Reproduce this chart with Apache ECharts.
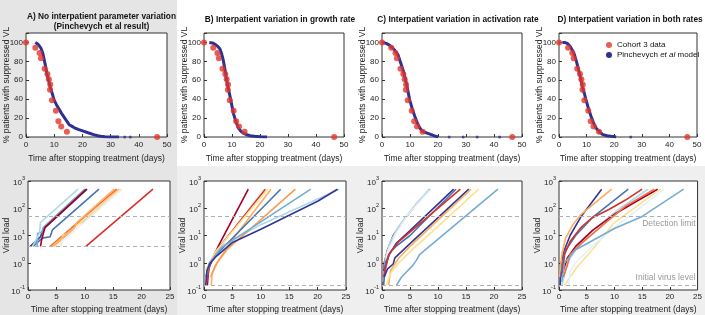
<!DOCTYPE html>
<html>
<head>
<meta charset="utf-8">
<script src="https://cdn.jsdelivr.net/npm/echarts@6/dist/echarts.min.js"></script>
<style>
  html, body { margin: 0; padding: 0; background: #fff; }
  #main { width: 705px; height: 315px; }
</style>
</head>
<body>
<div id="main"></div>
<script>
// panel titles
var titles = [
  'A) No interpatient parameter variation\n(Pinchevych et al result)',
  'B) Interpatient variation in growth rate',
  'C) Interpatient variation in activation rate',
  'D) Interpatient variation in both rates'
];

// cohort 3 data: [days, % suppressed]
var cohortData = [[0,100],[3.3,94.4],[4.8,88.9],[5.3,83.3],[6.6,72.2],[7.6,66.7],[8.1,61.1],[8.6,55.6],[8.5,50],
  [9.2,38.9],[10.6,27.8],[11.5,16.7],[12.5,11.1],[14.5,5.6],[46.5,0]];

// model curves
var modelA = [[3.3,100],[4.3,98],[5.3,94],[6,88],[6.5,81],[7,74],[7.4,67],[8,60],[8.6,53],[9.3,46],[10,39],[11,33],
  [11.8,29],[12.6,25],[13.5,21],[14.4,17],[15.3,13],[16.2,11.5],[17,10],[18.5,8],[20.6,6],[22,4.5],[24,2.5],
  [25.5,1.3],[26.5,0.7],[28,0.3],[30,0.1],[33,0]];
var modelB = [[1.9,100],[3,99.5],[4,98],[5,95.5],[5.7,93],[6.3,88],[6.9,81],[7.5,71],[8.1,60],[8.7,51],[9.3,43],
  [9.9,34],[10.5,25],[11.4,16],[12.3,9.5],[13.2,6],[14.1,4],[15.3,2.3],[16.5,1.4],[18,0.7],[20,0.2],[22.5,0]];
var modelC = [[0.4,100],[1.5,99],[2.5,97.5],[3.3,95.5],[4.5,92],[5.7,87],[6.6,79],[7.5,71],[8.1,64],[8.7,57],
  [9.3,48],[9.9,39],[10.8,30],[11.7,22],[12.6,15],[13.5,9.5],[14.3,6.5],[15.2,5],[16.4,3.8],[17.6,2.5],[18.8,1.2],[20,0]];
var modelD = [[1.2,100],[2,100],[3,99],[4,96],[5,91],[5.5,88],[6.4,79],[7.3,69],[7.9,61],[8.5,53],[9.2,46],
  [9.8,39],[10.7,30],[11.6,22],[12.5,15],[13.4,9.5],[14.6,5.5],[15.9,2.5],[17.4,1.3],[18.9,0.7],[20.7,0]];
var modelTails = [[[35,0],[37,0]], [], [[24,0],[29,0],[34,0],[42,0]], [[26,0]]];

// viral load trajectories: [days, viral load]
var vlColorsA = ['#313695','#4575b4','#74add1','#abd9e9','#a50026','#fdae61','#f46d43','#fee090','#e0f3f8','#fdae61','#d73027'];
var vlA = [
  [[0.4,4],[2.2,9],[2.7,17],[10.4,500]],
  [[0.9,4],[2.5,8],[3.9,9],[4.3,16],[12.5,500]],
  [[1.6,4],[1.7,12],[2.4,13],[2.7,20],[10.0,500]],
  [[0.8,4],[2.0,12],[2.2,30],[8.8,500]],
  [[2.2,4],[2.4,7],[3.0,20],[10.3,500]],
  [[4.5,4],[7.9,16],[8.6,27],[9.6,30],[16.0,500]],
  [[3.9,4],[15.6,500]],
  [[5.8,4],[6.1,10],[7.0,12],[16.3,500]],
  [[5.0,4],[16.6,500]],
  [[4.2,4],[8.2,20],[8.6,30],[15.2,500]],
  [[10.2,4],[22.0,500]]
];
var vlColorsB = ['#a50026','#e0f3f8','#abd9e9','#d73027','#fdae61','#fee090','#4575b4','#f99a4f','#74add1','#313695'];
var vlB = [
  [[0.6,0.15],[0.8,0.6],[1.5,1.3],[2.5,4],[7.8,500]],
  [[0.3,0.2],[1,1],[2,2.2],[10.4,500]],
  [[0.4,0.3],[1.2,1.2],[3,4],[10,25],[23.8,500]],
  [[0.5,0.2],[1,0.8],[2,2.5],[5,15],[10.8,500]],
  [[1.3,0.15],[1.4,0.4],[2.5,1.2],[5,7],[11.8,500]],
  [[0.2,0.5],[1,1],[2,2.5],[11.2,500]],
  [[0.4,0.3],[1,1],[3,3],[13.5,500]],
  [[1.2,0.3],[2,0.8],[4,3],[16.1,500]],
  [[0.3,0.3],[1,1],[3,3.5],[18.8,500]],
  [[0.3,0.15],[0.5,0.5],[1,0.9],[2,1.6],[5,5.5],[10,17],[15,55],[20,180],[23.5,500]]
];
var vlColorsC = ['#a50026','#abd9e9','#e0f3f8','#313695','#4575b4','#d73027','#313695','#fdae61','#fee090','#74add1'];
var vlC = [
  [[0.2,0.15],[0.4,1],[1,3],[2,10],[4,40],[6,130],[8.6,500]],
  [[0.2,0.2],[0.6,1.5],[1.5,6],[3,22],[5.5,100],[8.4,500]],
  [[0.3,0.3],[1,2.5],[2.5,12],[4.5,55],[8.7,500]],
  [[0.3,0.5],[1.3,2],[2.5,5],[5,15],[12.8,500]],
  [[0.3,0.15],[0.6,1],[1.5,2.5],[2.5,4],[5,10],[13.2,500]],
  [[0.3,0.3],[1.2,2],[3,6],[14,500]],
  [[0.4,0.3],[1,0.6],[2,0.9],[2.3,1.5],[5,5],[15.5,500]],
  [[1.2,0.15],[1.5,0.5],[3,1.5],[5,4],[15.9,500]],
  [[0.8,0.15],[1.5,0.4],[3,1],[5,2.5],[17.3,500]],
  [[2.6,0.15],[3.5,0.3],[5.5,0.8],[6.1,1.2],[6.7,2],[20.7,500]]
];
var vlColorsD = ['#313695','#fdae61','#4575b4','#d73027','#abd9e9','#a50026','#f46d43','#fee090','#e0f3f8','#74add1'];
var vlD = [
  [[0.2,0.15],[0.4,1],[1,3],[2,10],[4,50],[7.7,500]],
  [[0.1,0.3],[0.5,2],[1.2,8],[2.5,25],[4,60],[9.5,500]],
  [[0.3,0.3],[1,2.5],[3,10],[6,45],[12.5,500]],
  [[0.5,0.3],[0.7,0.6],[1,2],[2,6],[4,20],[6,45],[9,90],[12,200],[15,500]],
  [[0.5,0.15],[1.5,1],[3,3],[6,15],[11,100],[16.1,500]],
  [[0.6,0.4],[1.5,1.5],[3,4],[6,15],[10,60],[14,180],[17.8,500]],
  [[0.8,0.3],[1.5,0.8],[2,2],[4,5],[8,25],[12,120],[17.2,500]],
  [[1,0.15],[3,0.6],[6,3],[10,30],[18.3,500]],
  [[1.8,0.15],[2,0.5],[3,1],[6,4],[10,20],[19,500]],
  [[0.5,0.2],[1,1],[3,3],[5,5],[10,18],[15,50],[22.5,500]]
];

var detectionLimit = 50;
var initialLevels = [4, 0.15, 0.15, 0.15];

var models = [modelA, modelB, modelC, modelD];
var vlLines = [vlA, vlB, vlC, vlD];
var vlColors = [vlColorsA, vlColorsB, vlColorsC, vlColorsD];

var FONT = 'Liberation Sans, Arial, sans-serif';
var myChart = echarts.init(document.getElementById('main'));

var topLeft = [26, 204, 382, 559];
var topWidth = [141, 140, 140, 138];
var botLeft = [28, 204, 382, 559];
var botWidth = [142, 142, 140, 139];
var centers = [96.5, 275, 453, 625];

var grids = [], xAxes = [], yAxes = [], series = [], titleArr = [];

for (var i = 0; i < 4; i++) {
  titleArr.push({
    text: titles[i], left: centers[i], top: i === 0 ? 7 : 10, textAlign: 'center',
    textStyle: { fontFamily: FONT, fontSize: 8.3, fontWeight: 'bold', color: '#111', lineHeight: 10 }
  });
  grids.push({ left: topLeft[i], top: 33, width: topWidth[i], height: 104, show: true,
    backgroundColor: '#fff', borderColor: '#333', borderWidth: 1 });
}
for (var i = 0; i < 4; i++) {
  grids.push({ left: botLeft[i], top: 181, width: botWidth[i], height: 111, show: true,
    backgroundColor: '#fff', borderColor: '#333', borderWidth: 1 });
}

var axisText = { fontFamily: FONT, fontSize: 8, color: '#222' };
var nameText = { fontFamily: FONT, fontSize: 8.5, color: '#222' };

for (var i = 0; i < 4; i++) {
  xAxes.push({
    gridIndex: i, type: 'value', min: 0, max: 50, interval: 10,
    name: 'Time after stopping treatment (days)', nameLocation: 'middle', nameGap: 17, nameMoveOverlap: false,
    nameTextStyle: nameText,
    axisLine: { show: false }, axisTick: { inside: true, length: 3, lineStyle: { color: '#333' } },
    axisLabel: Object.assign({ margin: 4 }, axisText), splitLine: { show: false }
  });
  yAxes.push({
    gridIndex: i, type: 'value', min: 0, max: 110, interval: 20,
    name: '% patients with suppressed VL', nameLocation: 'middle', nameGap: 14.5, nameMoveOverlap: false,
    nameTextStyle: nameText,
    axisLine: { show: false }, axisTick: { inside: true, length: 3, lineStyle: { color: '#333' } },
    axisLabel: Object.assign({ margin: 3, formatter: function (v) { return v > 100 ? '' : v; } }, axisText),
    splitLine: { show: false }
  });
}
for (var i = 0; i < 4; i++) {
  xAxes.push({
    gridIndex: 4 + i, type: 'value', min: 0, max: 25, interval: 5,
    name: 'Time after stopping treatment (days)', nameLocation: 'middle', nameGap: 15, nameMoveOverlap: false,
    nameTextStyle: nameText,
    axisLine: { show: false }, axisTick: { inside: true, length: 3, lineStyle: { color: '#333' } },
    axisLabel: Object.assign({ margin: 3 }, axisText), splitLine: { show: false }
  });
  yAxes.push({
    gridIndex: 4 + i, type: 'log', logBase: 10, min: 0.1, max: 1000,
    name: 'Viral load', nameLocation: 'middle', nameGap: 16.5, nameMoveOverlap: false,
    nameTextStyle: nameText,
    axisLine: { show: false }, axisTick: { inside: true, length: 3, lineStyle: { color: '#333' } },
    minorTick: { show: false },
    axisLabel: {
      margin: 3,
      formatter: function (v) { return '{b|10}{s|' + Math.round(Math.log10(v)) + '}'; },
      rich: {
        b: { fontFamily: FONT, fontSize: 8, color: '#222', lineHeight: 12, verticalAlign: 'bottom' },
        s: { fontFamily: FONT, fontSize: 5.5, color: '#222', lineHeight: 7, verticalAlign: 'top' }
      }
    },
    splitLine: { show: false }
  });
}

// top row
for (var i = 0; i < 4; i++) {
  series.push({
    name: i === 3 ? 'Pinchevych et al model' : 'model' + i,
    type: 'line', xAxisIndex: i, yAxisIndex: i, data: models[i], showSymbol: false, symbol: 'circle',
    lineStyle: { color: '#2e3192', width: 3 }, itemStyle: { color: '#2e3192' }, z: 2
  });
  if (modelTails[i].length) {
    series.push({
      type: 'scatter', xAxisIndex: i, yAxisIndex: i, data: modelTails[i], symbolSize: 3,
      itemStyle: { color: '#2e3192' }, z: 2
    });
  }
  series.push({
    name: i === 3 ? 'Cohort 3 data' : 'data' + i,
    type: 'scatter', xAxisIndex: i, yAxisIndex: i, data: cohortData, symbolSize: 6,
    itemStyle: { color: '#e3342b' }, z: 3
  });
}

// bottom row
for (var i = 0; i < 4; i++) {
  var ax = 4 + i;
  series.push({
    type: 'line', xAxisIndex: ax, yAxisIndex: ax, data: [], silent: true,
    markLine: {
      silent: true, symbol: 'none', animation: false,
      lineStyle: { color: '#b0b0b0', type: [4, 3], width: 1 },
      data: [
        { yAxis: detectionLimit, label: { show: i === 3, position: 'insideEndBottom', formatter: 'Detection limit',
          color: '#999', fontFamily: FONT, fontSize: 8.5, distance: [2, 3] } },
        { yAxis: initialLevels[i], label: { show: i === 3, position: 'insideEndTop', formatter: 'Initial virus level',
          color: '#999', fontFamily: FONT, fontSize: 8.5, distance: [2, 3] } }
      ]
    }
  });
  var lines = vlLines[i];
  for (var k = 0; k < lines.length; k++) {
    series.push({
      type: 'line', xAxisIndex: ax, yAxisIndex: ax, data: lines[k], showSymbol: false,
      lineStyle: { color: vlColors[i][k], width: 1.6 }, z: 2
    });
  }
}

myChart.setOption({
  animation: false,
  textStyle: { fontFamily: FONT },
  graphic: [
    { type: 'rect', shape: { x: 0, y: 0, width: 177, height: 315 }, style: { fill: '#e5e5e5' }, z: -10 },
    { type: 'rect', shape: { x: 177, y: 166, width: 528, height: 149 }, style: { fill: '#efefef' }, z: -10 }
  ],
  title: titleArr,
  legend: {
    left: 601, top: 36, orient: 'vertical', itemGap: 2, itemWidth: 6, itemHeight: 6,
    textStyle: {
      fontFamily: FONT, fontSize: 8, color: '#111',
      rich: { i: { fontFamily: FONT, fontSize: 8, fontStyle: 'italic', color: '#111' } }
    },
    formatter: function (n) { return n === 'Pinchevych et al model' ? 'Pinchevych {i|et al} model' : n; },
    data: [
      { name: 'Cohort 3 data', icon: 'circle' },
      { name: 'Pinchevych et al model', icon: 'circle' }
    ]
  },
  grid: grids,
  xAxis: xAxes,
  yAxis: yAxes,
  series: series
});
</script>
</body>
</html>
